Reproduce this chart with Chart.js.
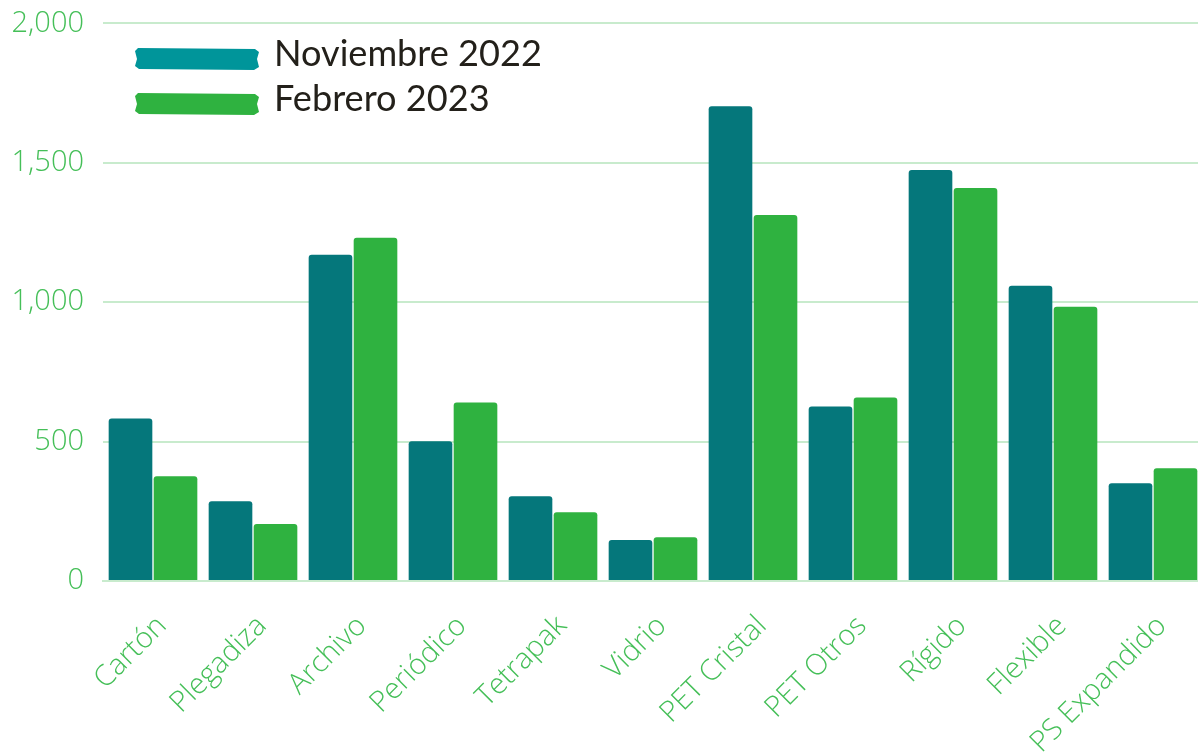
<!DOCTYPE html>
<html><head><meta charset="utf-8">
<script src="https://cdn.jsdelivr.net/npm/chart.js@4"></script>
<style>
html,body{margin:0;padding:0;background:#fff;overflow:hidden;width:1198px;height:753px;position:relative;}
#wrap{position:absolute;left:0;top:-13px;width:1210px;height:766px;}
</style></head>
<body>
<div id="wrap"><canvas id="c" width="1210" height="766"></canvas></div>
<script>
const categories = ["Cartón","Plegadiza","Archivo","Periódico","Tetrapak","Vidrio","PET Cristal","PET Otros","Rígido","Flexible","PS Expandido"];
const seriesNames = ["Noviembre 2022","Febrero 2023"];
const nov2022 = [583,286,1170,501,304,147,1703,626,1474,1059,351];
const feb2023 = [376,204,1231,640,247,157,1313,658,1410,984,404];
const yTicks = [0,500,1000,1500,2000];

const barColors = ["#05777b","#2fb240"];
const legendColors = ["#00959a","#2fb240"];
const tickColor = "#45bf58";
const gridColor = "#c8ebcd";
const OFF = 13;

const legendPlugin = {
  id: 'brushLegend',
  afterDraw(chart) {
    const ctx = chart.ctx;
    ctx.save();
    const rows = [{y:59+OFF},{y:104+OFF}];
    let size = 34;
    ctx.font = size + "px Lato, sans-serif";
    const w = ctx.measureText(seriesNames[0]).width;
    size = size * 268 / w;
    chart.data.datasets.forEach((ds, i) => {
      const yc = rows[i].y;
      const x0 = 135, x1 = 259, h = 22;
      ctx.fillStyle = legendColors[i];
      ctx.beginPath();
      ctx.moveTo(x0 + 3, yc - h/2);
      ctx.lineTo(x1 - 4, yc - h/2 + 1);
      ctx.lineTo(x1, yc - h/2 + 4);
      ctx.lineTo(x1 - 2, yc);
      ctx.lineTo(x1, yc + h/2 - 3);
      ctx.lineTo(x1 - 5, yc + h/2);
      ctx.lineTo(x0 + 4, yc + h/2 - 1);
      ctx.lineTo(x0, yc + h/2 - 4);
      ctx.lineTo(x0 + 2, yc);
      ctx.lineTo(x0, yc - h/2 + 3);
      ctx.closePath();
      ctx.fill();
      ctx.fillStyle = "#23201a";
      ctx.font = size + "px Lato, sans-serif";
      ctx.textBaseline = "middle";
      ctx.textAlign = "left";
      ctx.fillText(ds.label, 274, yc - 5);
    });
    ctx.restore();
  }
};

new Chart(document.getElementById('c'), {
  type: 'bar',
  data: {
    labels: categories,
    datasets: [
      {label: seriesNames[0], data: nov2022, backgroundColor: barColors[0], borderRadius: 3, borderSkipped: 'bottom', categoryPercentage: 0.9, barPercentage: 0.97},
      {label: seriesNames[1], data: feb2023, backgroundColor: barColors[1], borderRadius: 3, borderSkipped: 'bottom', categoryPercentage: 0.9, barPercentage: 0.97}
    ]
  },
  options: {
    responsive: false,
    animation: false,
    layout: {padding: {top: 0, left: 0, right: 7, bottom: 0}},
    plugins: {legend: {display: false}, tooltip: {enabled: false}},
    scales: {
      x: {
        grid: {display: false},
        border: {display: true, color: gridColor, width: 2},
        ticks: {color: tickColor, font: {family: "'Open Sans', sans-serif", size: 29, weight: 300}, maxRotation: 45, minRotation: 45, padding: 20, labelOffset: 9},
        afterFit(scale) { scale.height = 172; }
      },
      y: {
        min: 0, max: 2000,
        afterBuildTicks(scale) { scale.ticks = yTicks.map(v => ({value: v})); },
        grid: {color: gridColor, lineWidth: 2, drawTicks: false},
        border: {display: false},
        ticks: {color: tickColor, font: {family: "'Open Sans', sans-serif", size: 29, weight: 300}, padding: 19},
        afterFit(scale) { scale.width = 103; }
      }
    }
  },
  plugins: [legendPlugin]
});
</script>
</body></html>
